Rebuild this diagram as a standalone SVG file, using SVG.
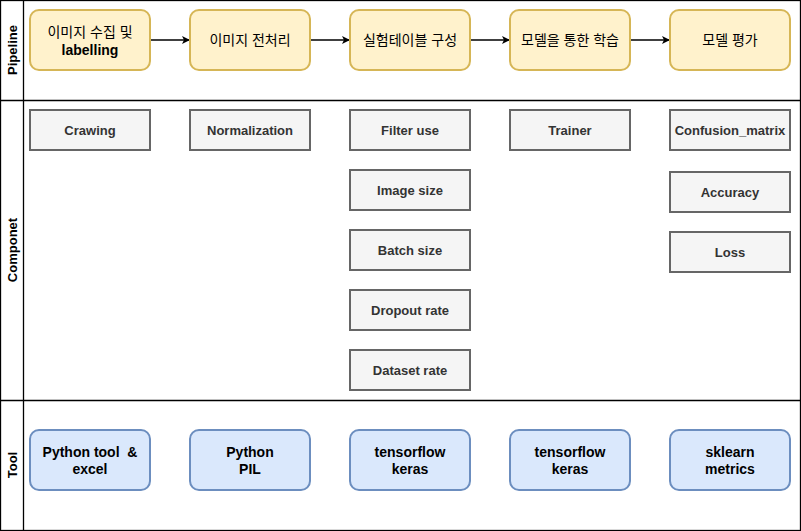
<svg xmlns="http://www.w3.org/2000/svg" width="801" height="531" viewBox="0 0 801 531">
<defs>
<marker id="arr" markerWidth="10" markerHeight="10" refX="9" refY="5" orient="auto" markerUnits="userSpaceOnUse">
<path d="M1,1 L9,5 L1,9 L3,5 Z" fill="#000"/>
</marker>
<style>
.lane{fill:none;stroke:#000;stroke-width:1.3}
.hdr{font-family:"Liberation Sans",Arial,sans-serif;font-size:13px;font-weight:bold;fill:#000;text-anchor:middle}
.pipe{fill:#fff2cc;stroke:#d6b656;stroke-width:2}
.comp{fill:#f5f5f5;stroke:#666666;stroke-width:2}
.tool{fill:#dae8fc;stroke:#6c8ebf;stroke-width:2}
.t{font-family:"Liberation Sans",Arial,"Noto Sans CJK KR",sans-serif;font-size:14px;text-anchor:middle;fill:#000}
.kr{font-weight:normal}
.b{font-weight:bold}
.ct{font-family:"Liberation Sans",Arial,sans-serif;font-size:13px;font-weight:bold;text-anchor:middle;fill:#333333}
.conn{fill:none;stroke:#000;stroke-width:1.3}
</style>
</defs>
<rect x="0" y="0" width="801" height="531" fill="#fff"/>
<g id="lanes">
<rect class="lane" x="0.5" y="0.5" width="800" height="530"/>
<line class="lane" x1="23.5" y1="0.5" x2="23.5" y2="530.5"/>
<line class="lane" x1="0.5" y1="100.5" x2="800.5" y2="100.5"/>
<line class="lane" x1="0.5" y1="400.5" x2="800.5" y2="400.5"/>
<text class="hdr" transform="translate(17,50) rotate(-90)">Pipeline</text>
<text class="hdr" transform="translate(17,250) rotate(-90)">Componet</text>
<text class="hdr" transform="translate(17,465) rotate(-90)">Tool</text>
</g>
<g id="connectors">
<line class="conn" x1="150" y1="40" x2="190" y2="40" marker-end="url(#arr)"/>
<line class="conn" x1="310" y1="40" x2="350" y2="40" marker-end="url(#arr)"/>
<line class="conn" x1="470" y1="40" x2="510" y2="40" marker-end="url(#arr)"/>
<line class="conn" x1="630" y1="40" x2="670" y2="40" marker-end="url(#arr)"/>
</g>
<g id="p1"><rect class="pipe" x="30" y="10" width="120" height="60" rx="9"/><text class="t kr" x="90" y="37">이미지 수집 및</text><text class="t b" x="90" y="55">labelling</text></g>
<g id="p2"><rect class="pipe" x="190" y="10" width="120" height="60" rx="9"/><text class="t kr" x="250" y="45">이미지 전처리</text></g>
<g id="p3"><rect class="pipe" x="350" y="10" width="120" height="60" rx="9"/><text class="t kr" x="410" y="45">실험테이블 구성</text></g>
<g id="p4"><rect class="pipe" x="510" y="10" width="120" height="60" rx="9"/><text class="t kr" x="570" y="45">모델을 통한 학습</text></g>
<g id="p5"><rect class="pipe" x="670" y="10" width="120" height="60" rx="9"/><text class="t kr" x="730" y="45">모델 평가</text></g>

<g id="c1"><rect class="comp" x="30" y="110" width="120" height="40"/><text class="ct" x="90" y="135">Crawing</text></g>
<g id="c2"><rect class="comp" x="190" y="110" width="120" height="40"/><text class="ct" x="250" y="135">Normalization</text></g>
<g id="c3"><rect class="comp" x="350" y="110" width="120" height="40"/><text class="ct" x="410" y="135">Filter use</text></g>
<g id="c4"><rect class="comp" x="350" y="170" width="120" height="40"/><text class="ct" x="410" y="195">Image size</text></g>
<g id="c5"><rect class="comp" x="350" y="230" width="120" height="40"/><text class="ct" x="410" y="255">Batch size</text></g>
<g id="c6"><rect class="comp" x="350" y="290" width="120" height="40"/><text class="ct" x="410" y="315">Dropout rate</text></g>
<g id="c7"><rect class="comp" x="350" y="350" width="120" height="40"/><text class="ct" x="410" y="375">Dataset rate</text></g>
<g id="c8"><rect class="comp" x="510" y="110" width="120" height="40"/><text class="ct" x="570" y="135">Trainer</text></g>
<g id="c9"><rect class="comp" x="670" y="110" width="120" height="40"/><text class="ct" x="730" y="135">Confusion_matrix</text></g>
<g id="c10"><rect class="comp" x="670" y="172" width="120" height="40"/><text class="ct" x="730" y="197">Accuracy</text></g>
<g id="c11"><rect class="comp" x="670" y="232" width="120" height="40"/><text class="ct" x="730" y="257">Loss</text></g>

<g id="t1"><rect class="tool" x="30" y="430" width="120" height="60" rx="9"/><text class="t b" x="90" y="457" xml:space="preserve">Python tool  &amp;</text><text class="t b" x="90" y="474">excel</text></g>
<g id="t2"><rect class="tool" x="190" y="430" width="120" height="60" rx="9"/><text class="t b" x="250" y="457">Python</text><text class="t b" x="250" y="474">PIL</text></g>
<g id="t3"><rect class="tool" x="350" y="430" width="120" height="60" rx="9"/><text class="t b" x="410" y="457">tensorflow</text><text class="t b" x="410" y="474">keras</text></g>
<g id="t4"><rect class="tool" x="510" y="430" width="120" height="60" rx="9"/><text class="t b" x="570" y="457">tensorflow</text><text class="t b" x="570" y="474">keras</text></g>
<g id="t5"><rect class="tool" x="670" y="430" width="120" height="60" rx="9"/><text class="t b" x="730" y="457">sklearn</text><text class="t b" x="730" y="474">metrics</text></g>
</svg>
